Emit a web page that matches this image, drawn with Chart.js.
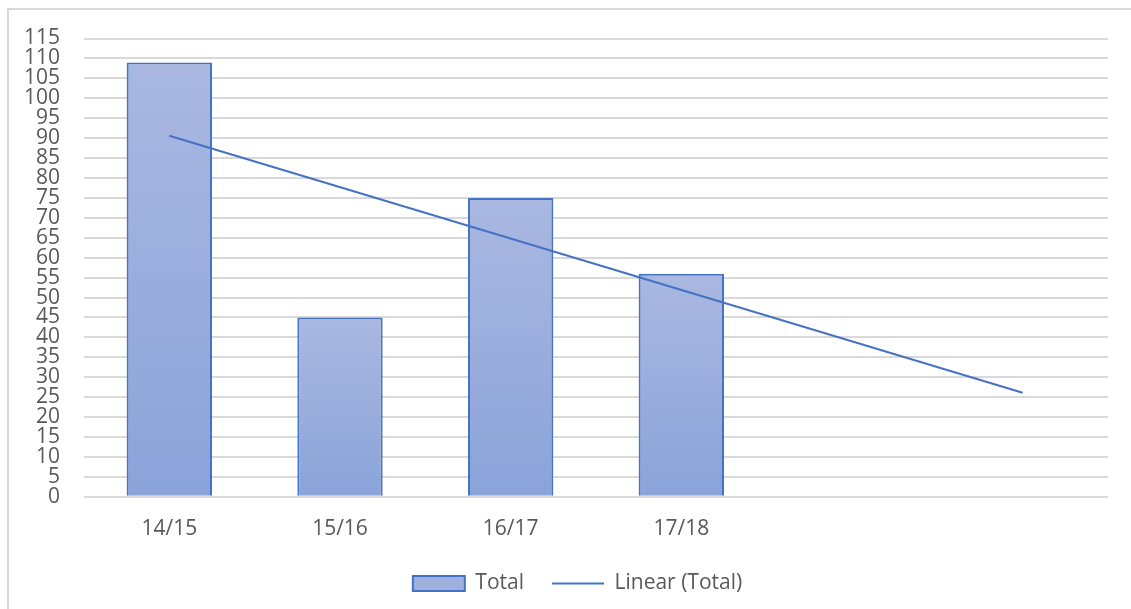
<!DOCTYPE html>
<html>
<head>
<meta charset="utf-8">
<script src="https://cdn.jsdelivr.net/npm/chart.js@4"></script>
<style>
  body { margin: 0; background: #fff; overflow: hidden; }
  #frame { position: absolute; left: 7px; top: 8px; width: 1300px; height: 800px;
           border-left: 2px solid #d9d9d9; border-top: 2px solid #d9d9d9; }
  #myChart { position: absolute; left: 9px; top: 4px; }
</style>
</head>
<body>
<div id="frame"></div>
<canvas id="myChart" width="1136" height="606"></canvas>
<script>
  // yearly totals, two empty slots left for the trend forecast
  var years = ["14/15", "15/16", "16/17", "17/18", "", ""];
  var totals = [109, 45, 75, 56];
  // linear trend, start and end of the line only
  var trend = [90.6, null, null, null, null, 26.1];
  var yTicks = [0, 115, 5];

  var blue = "#4472c4";
  var grey = "#595959";

  function barFill(c) {
    var chart = c.chart;
    var y = chart.scales.y;
    if (!y || !c.parsed) return "#9db0de";
    var top = y.getPixelForValue(c.parsed.y);
    var bottom = y.getPixelForValue(0);
    var g = chart.ctx.createLinearGradient(0, top, 0, bottom);
    g.addColorStop(0, "#aab8e1");
    g.addColorStop(1, "#8aa3d9");
    return g;
  }

  // nudge the legend a bit right of the canvas centre
  var legendShift = {
    id: "legendShift",
    afterLayout: function(chart) {
      chart.legend.left += 11;
      chart.legend.right += 11;
    }
  };

  Chart.defaults.font.family = "'Open Sans', sans-serif";
  Chart.defaults.font.size = 21;
  Chart.defaults.color = grey;

  new Chart("myChart", {
    data: {
      labels: years,
      datasets: [
        {
          type: "bar",
          label: "Total",
          data: totals,
          backgroundColor: barFill,
          borderColor: blue,
          borderWidth: 2,
          categoryPercentage: 1,
          barPercentage: 0.5,
          order: 1
        },
        {
          type: "line",
          label: "Linear (Total)",
          data: trend,
          borderColor: blue,
          borderWidth: 2,
          pointRadius: 0,
          spanGaps: true,
          order: 0
        }
      ]
    },
    plugins: [legendShift],
    options: {
      responsive: false,
      devicePixelRatio: 1,
      animation: false,
      layout: { padding: { left: 16, right: 37, top: 6, bottom: 6 } },
      plugins: {
        tooltip: { enabled: false },
        legend: {
          position: "bottom",
          labels: {
            usePointStyle: true,
            pointStyleWidth: 52,
            boxHeight: 15,
            padding: 28,
            color: grey,
            generateLabels: function(chart) {
              return [
                { text: "Total", fillStyle: "#9db0de", strokeStyle: blue, lineWidth: 2,
                  pointStyle: "rect", datasetIndex: 0, fontColor: grey },
                { text: "Linear (Total)", strokeStyle: blue, lineWidth: 2,
                  pointStyle: "line", datasetIndex: 1, fontColor: grey }
              ];
            }
          }
        }
      },
      scales: {
        x: {
          grid: { display: false },
          border: { display: false },
          ticks: { padding: 12, color: grey },
          afterFit: function(s) { s.height = s.height - 9; }
        },
        y: {
          min: yTicks[0],
          max: yTicks[1],
          ticks: { stepSize: yTicks[2], autoSkip: false, padding: 24, color: grey,
                   font: { lineHeight: 1 } },
          grid: { color: "#d9d9d9", lineWidth: 2, drawTicks: false },
          border: { display: false },
          afterFit: function(s) { s.width = 59; }
        }
      }
    }
  });
</script>
</body>
</html>
